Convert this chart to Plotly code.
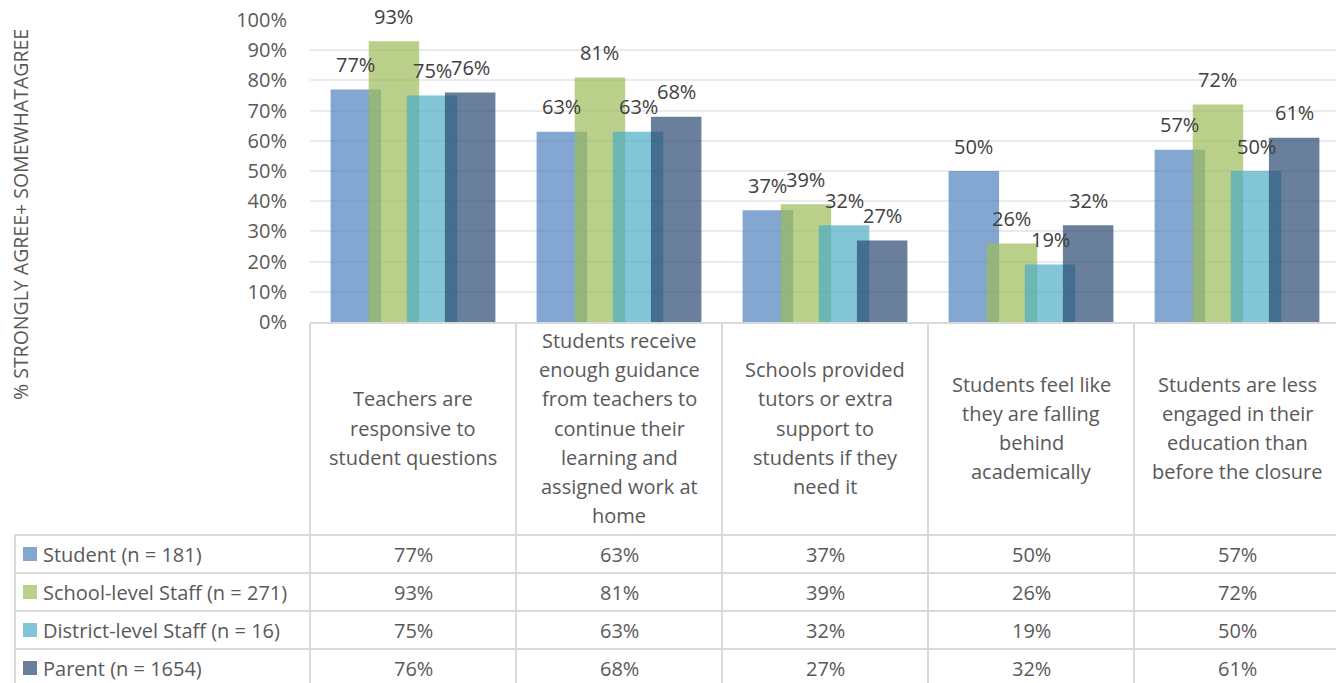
import plotly.graph_objects as go

categories = [
    "Teachers are<br>responsive to<br>student questions",
    "Students receive<br>enough guidance<br>from teachers to<br>continue their<br>learning and<br>assigned work at<br>home",
    "Schools provided<br>tutors or extra<br>support to<br>students if they<br>need it",
    "Students feel like<br>they are falling<br>behind<br>academically",
    "Students are less<br>engaged in their<br>education than<br>before the closure",
]
series_names = [
    "Student (n = 181)",
    "School-level Staff (n = 271)",
    "District-level Staff (n = 16)",
    "Parent (n = 1654)",
]
student = [77, 63, 37, 50, 57]
school_staff = [93, 81, 39, 26, 72]
district_staff = [75, 63, 32, 19, 50]
parent = [76, 68, 27, 32, 61]
series_values = [student, school_staff, district_staff, parent]
y_ticks = list(range(0, 101, 10))
y_title = "% STRONGLY AGREE+ SOMEWHATAGREE"

colors = [
    "rgba(79,129,189,0.7)",
    "rgba(155,187,89,0.7)",
    "rgba(75,172,198,0.7)",
    "rgba(42,72,114,0.7)",
]

# the page body adds an 8px margin, so the figure is drawn 8px smaller and
# reference pixel positions are shifted by that amount
OFF = 8
W, H = 1344 - OFF, 683 - OFF
L, R, T, B = 310 - OFF, 4, 20 - OFF, 683 - 322
PW, PH = W - L - R, H - T - B
TEXT = "#595959"
BORDER = "#d9d9d9"
FONT = "Open Sans"


def px_x(px):
    return (px - OFF - L) / PW


def px_y(py):
    return (H - B - (py - OFF)) / PH


bar_w = 0.245
step = 0.185
start = -(3 * step + bar_w) / 2
xs = list(range(len(categories)))

fig = go.Figure()
annotations = []
for k, (name, vals) in enumerate(zip(series_names, series_values)):
    off = start + k * step
    fig.add_trace(
        go.Bar(
            x=xs,
            y=vals,
            name=name,
            width=bar_w,
            offset=off,
            marker=dict(color=colors[k], line=dict(width=0)),
            showlegend=False,
        )
    )
    for i, v in enumerate(vals):
        annotations.append(
            dict(
                x=i + off + bar_w / 2, y=v, xref="x", yref="y",
                text=f"{v}%", showarrow=False, yshift=25,
                font=dict(size=20, color="#404040", family=FONT),
            )
        )

# table geometry (reference pixels)
header_top, header_bot = 323, 535
row_h = 38
left_px = 15
col_edges = [310 + i * PW / len(categories) for i in range(len(categories) + 1)]
shapes = []
line = dict(color=BORDER, width=2)
shapes.append(dict(type="line", xref="paper", yref="paper", x0=0, x1=1,
                   y0=px_y(header_top), y1=px_y(header_top), line=line))
for e in col_edges:
    shapes.append(dict(type="line", xref="paper", yref="paper", x0=px_x(e), x1=px_x(e),
                       y0=px_y(header_top), y1=px_y(700), line=line))
shapes.append(dict(type="line", xref="paper", yref="paper", x0=px_x(left_px), x1=px_x(left_px),
                   y0=px_y(header_bot), y1=px_y(700), line=line))
for r in range(len(series_names)):
    yy = header_bot + r * row_h
    shapes.append(dict(type="line", xref="paper", yref="paper", x0=px_x(left_px), x1=1,
                       y0=px_y(yy), y1=px_y(yy), line=line))

# header labels, one annotation per line for Excel-like line spacing
line_gap = 29.3
for i, c in enumerate(categories):
    parts = c.split("<br>")
    n = len(parts)
    for j, p in enumerate(parts):
        cy = 428 + (j - (n - 1) / 2) * line_gap
        annotations.append(
            dict(x=i, y=px_y(cy), xref="x", yref="paper", text=p, showarrow=False,
                 align="center", yanchor="middle",
                 font=dict(size=20, color=TEXT, family=FONT))
        )

# data rows with legend keys
for r, (name, vals) in enumerate(zip(series_names, series_values)):
    cy = header_bot + r * row_h + row_h / 2
    shapes.append(dict(type="rect", xref="paper", yref="paper",
                       x0=px_x(23), x1=px_x(37), y0=px_y(cy - 7), y1=px_y(cy + 7),
                       fillcolor=colors[r], line=dict(width=0)))
    annotations.append(
        dict(x=px_x(41), y=px_y(cy), xref="paper", yref="paper", text=name, showarrow=False,
             xanchor="left", yanchor="middle", font=dict(size=20, color=TEXT, family=FONT))
    )
    for i, v in enumerate(vals):
        annotations.append(
            dict(x=i, y=px_y(cy), xref="x", yref="paper", text=f"{v}%", showarrow=False,
                 yanchor="middle", font=dict(size=20, color=TEXT, family=FONT))
        )

annotations.append(
    dict(x=px_x(20), y=px_y(215), xref="paper", yref="paper", text=y_title, showarrow=False,
         textangle=-90, xanchor="center", yanchor="middle",
         font=dict(size=19.5, color=TEXT, family=FONT))
)

fig.update_layout(
    width=W,
    height=H,
    margin=dict(l=L, r=R, t=T, b=B, autoexpand=False),
    barmode="overlay",
    paper_bgcolor="white",
    plot_bgcolor="white",
    font=dict(family=FONT, color=TEXT),
    xaxis=dict(range=[-0.5, len(categories) - 0.5], showticklabels=False, showgrid=False,
               zeroline=False, showline=False, fixedrange=True, automargin=False),
    yaxis=dict(range=[0, 100], tickvals=y_ticks, ticktext=[f"{t}%" for t in y_ticks],
               showgrid=True, gridcolor="#ebebeb", gridwidth=1.5, zeroline=False,
               showline=False, tickfont=dict(size=20, color=TEXT, family=FONT),
               ticklabelstandoff=22, ticklabeloverflow="allow", automargin=False),
    shapes=shapes,
    annotations=annotations,
)

fig.write_html("out.html")
